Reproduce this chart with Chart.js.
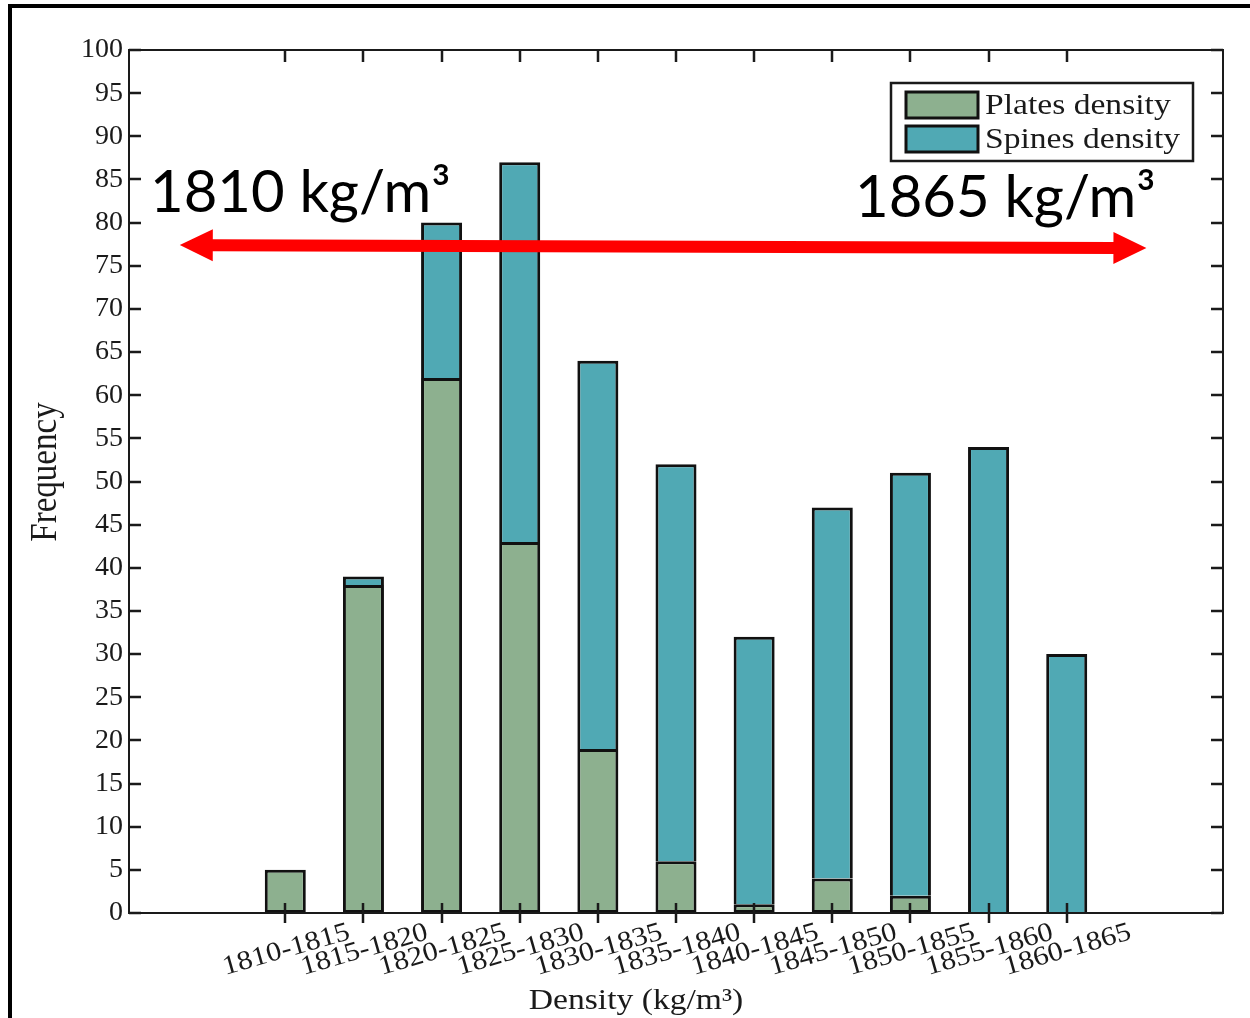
<!DOCTYPE html>
<html>
<head>
<meta charset="utf-8">
<script src="https://cdn.jsdelivr.net/npm/chart.js@4.4.1/dist/chart.umd.min.js"></script>
<style>
  html, body { margin: 0; padding: 0; background: #fff; }
  canvas { display: block; }
</style>
</head>
<body>
<canvas id="chart" width="1250" height="1018"></canvas>
<script>
// Density bins (kg/m³) and counts per bin
const categories = ['1810-1815', '1815-1820', '1820-1825', '1825-1830', '1830-1835', '1835-1840',
                    '1840-1845', '1845-1850', '1850-1855', '1855-1860', '1860-1865'];
const platesDensity = [5, 38, 62, 43, 19, 6, 1, 4, 2, 0, 0];
const spinesDensity = [0, 1, 18, 44, 45, 46, 31, 43, 49, 54, 30];
const seriesNames = ['Plates density', 'Spines density'];
const yTickStep = 5;
const yMax = 100;
const xTitle = 'Density (kg/m³)';
const yTitle = 'Frequency';
const rangeLabels = ['1810 kg/m³', '1865 kg/m³'];
// range arrow end points, in axis units (category index, frequency)
const rangeArrowFrom = { x: 0.65, y: 77.4 };
const rangeArrowTo = { x: 13.02, y: 77.05 };

// empty slots on both sides of the bins
const EDGE = 2;
const pad = n => Array(n).fill(null);
const labels = [...Array(EDGE).fill(''), ...categories, ...Array(EDGE).fill('')];
const platesData = [...pad(EDGE), ...platesDensity, ...pad(EDGE)];
const spinesData = [...pad(EDGE), ...spinesDensity, ...pad(EDGE)];

const GREEN = '#8DB08F';
const TEAL = '#50A9B4';
const SERIF = '"Liberation Serif", "DejaVu Serif", serif';
const STRETCH = 1.12;

function stretchedText(ctx, text, x, y, font, align, baseline, angle) {
  ctx.save();
  ctx.translate(x, y);
  if (angle) ctx.rotate(angle);
  ctx.scale(STRETCH, 1);
  ctx.font = font;
  ctx.textAlign = align;
  ctx.textBaseline = baseline;
  ctx.fillText(text, 0, 0);
  ctx.restore();
}

const decorations = {
  id: 'decorations',
  beforeDraw(chart) {
    const ctx = chart.ctx;
    ctx.save();
    ctx.fillStyle = '#fff';
    ctx.fillRect(0, 0, chart.width, chart.height);
    // outer frame (top and left edges)
    ctx.fillStyle = '#000';
    ctx.fillRect(8, 4, chart.width - 8, 4);
    ctx.fillRect(8, 4, 4, chart.height - 4);
    ctx.restore();
  },
  afterDatasetsDraw(chart) {
    const ctx = chart.ctx;
    const { left, right, top, bottom } = chart.chartArea;
    const xs = chart.scales.x;
    const ys = chart.scales.y;
    ctx.save();

    // plot box
    ctx.strokeStyle = '#1a1a1a';
    ctx.lineWidth = 2;
    ctx.strokeRect(left, top, right - left, bottom - top);

    // x ticks (bottom crossing the axis, top pointing inward)
    ctx.lineWidth = 2.5;
    categories.forEach((c, i) => {
      const px = Math.round(xs.getPixelForValue(i + EDGE));
      ctx.beginPath();
      ctx.moveTo(px, bottom - 10); ctx.lineTo(px, bottom + 10);
      ctx.moveTo(px, top); ctx.lineTo(px, top + 12);
      ctx.stroke();
    });
    // y ticks on both sides, inward
    ys.ticks.forEach(t => {
      const py = Math.round(ys.getPixelForValue(t.value));
      ctx.beginPath();
      ctx.moveTo(left, py); ctx.lineTo(left + 12, py);
      ctx.moveTo(right, py); ctx.lineTo(right - 12, py);
      ctx.stroke();
    });

    // rotated category labels
    ctx.fillStyle = '#1a1a1a';
    const ang = -16 * Math.PI / 180;
    categories.forEach((c, i) => {
      const px = xs.getPixelForValue(i + EDGE);
      stretchedText(ctx, c, px + 1, bottom + 37, '27px ' + SERIF, 'center', 'middle', ang);
    });

    // axis titles
    stretchedText(ctx, xTitle, (left + right) / 2 - 40, bottom + 88, '30px ' + SERIF, 'center', 'middle', 0);
    ctx.save();
    ctx.translate(46, 472);
    ctx.rotate(-Math.PI / 2);
    ctx.scale(1, STRETCH);
    ctx.font = '33px ' + SERIF;
    ctx.textAlign = 'center';
    ctx.textBaseline = 'middle';
    ctx.fillText(yTitle, 0, 0);
    ctx.restore();

    // legend
    const lx = 891, ly = 83, lw = 302, lh = 78;
    ctx.fillStyle = '#fff';
    ctx.fillRect(lx, ly, lw, lh);
    ctx.strokeStyle = '#1a1a1a';
    ctx.lineWidth = 2.5;
    ctx.strokeRect(lx, ly, lw, lh);
    chart.data.datasets.forEach((ds, i) => {
      const sy = 92 + i * 34;
      ctx.fillStyle = ds.backgroundColor;
      ctx.fillRect(906, sy, 72, 26);
      ctx.lineWidth = 3;
      ctx.strokeStyle = '#111';
      ctx.strokeRect(906, sy, 72, 26);
      ctx.fillStyle = '#1a1a1a';
      stretchedText(ctx, ds.label, 985, sy + 22, '30px ' + SERIF, 'left', 'alphabetic', 0);
    });

    // range arrow
    const x0 = xs.getPixelForValue(rangeArrowFrom.x), y0 = ys.getPixelForValue(rangeArrowFrom.y);
    const x1 = xs.getPixelForValue(rangeArrowTo.x), y1 = ys.getPixelForValue(rangeArrowTo.y);
    const a = Math.atan2(y1 - y0, x1 - x0);
    const len = Math.hypot(x1 - x0, y1 - y0);
    const head = 33, hw = 16, sw = 6;
    ctx.save();
    ctx.translate(x0, y0);
    ctx.rotate(a);
    ctx.fillStyle = '#FF0000';
    ctx.beginPath();
    ctx.moveTo(0, 0);
    ctx.lineTo(head, -hw);
    ctx.lineTo(head, -sw);
    ctx.lineTo(len - head, -sw);
    ctx.lineTo(len - head, -hw);
    ctx.lineTo(len, 0);
    ctx.lineTo(len - head, hw);
    ctx.lineTo(len - head, sw);
    ctx.lineTo(head, sw);
    ctx.lineTo(head, hw);
    ctx.closePath();
    ctx.fill();
    ctx.restore();

    // range labels
    ctx.fillStyle = '#000';
    ctx.font = '58px Lato, "Open Sans", sans-serif';
    ctx.textAlign = 'left';
    ctx.textBaseline = 'alphabetic';
    ctx.fillText(rangeLabels[0], 150, 212);
    ctx.fillText(rangeLabels[1], 855, 217);

    ctx.restore();
  }
};

new Chart(document.getElementById('chart'), {
  type: 'bar',
  data: {
    labels: labels,
    datasets: [
      {
        label: seriesNames[0],
        data: platesData,
        backgroundColor: GREEN,
        borderColor: '#111',
        borderWidth: 3,
        borderSkipped: false
      },
      {
        label: seriesNames[1],
        data: spinesData,
        backgroundColor: TEAL,
        borderColor: '#111',
        borderWidth: 3,
        borderSkipped: 'start'
      }
    ]
  },
  options: {
    responsive: false,
    animation: false,
    devicePixelRatio: 1,
    layout: { padding: { left: 0, top: 50, right: 27, bottom: 105 } },
    datasets: { bar: { barPercentage: 0.525, categoryPercentage: 1 } },
    plugins: { legend: { display: false }, tooltip: { enabled: false } },
    scales: {
      x: {
        type: 'category',
        stacked: true,
        offset: false,
        display: false
      },
      y: {
        stacked: true,
        min: 0,
        max: yMax,
        grid: { display: false, drawTicks: false },
        border: { display: false },
        ticks: {
          stepSize: yTickStep,
          padding: 6,
          color: '#1a1a1a',
          font: { family: SERIF, size: 28 }
        },
        afterFit(scale) { scale.width = 129; }
      }
    }
  },
  plugins: [decorations]
});
</script>
</body>
</html>
